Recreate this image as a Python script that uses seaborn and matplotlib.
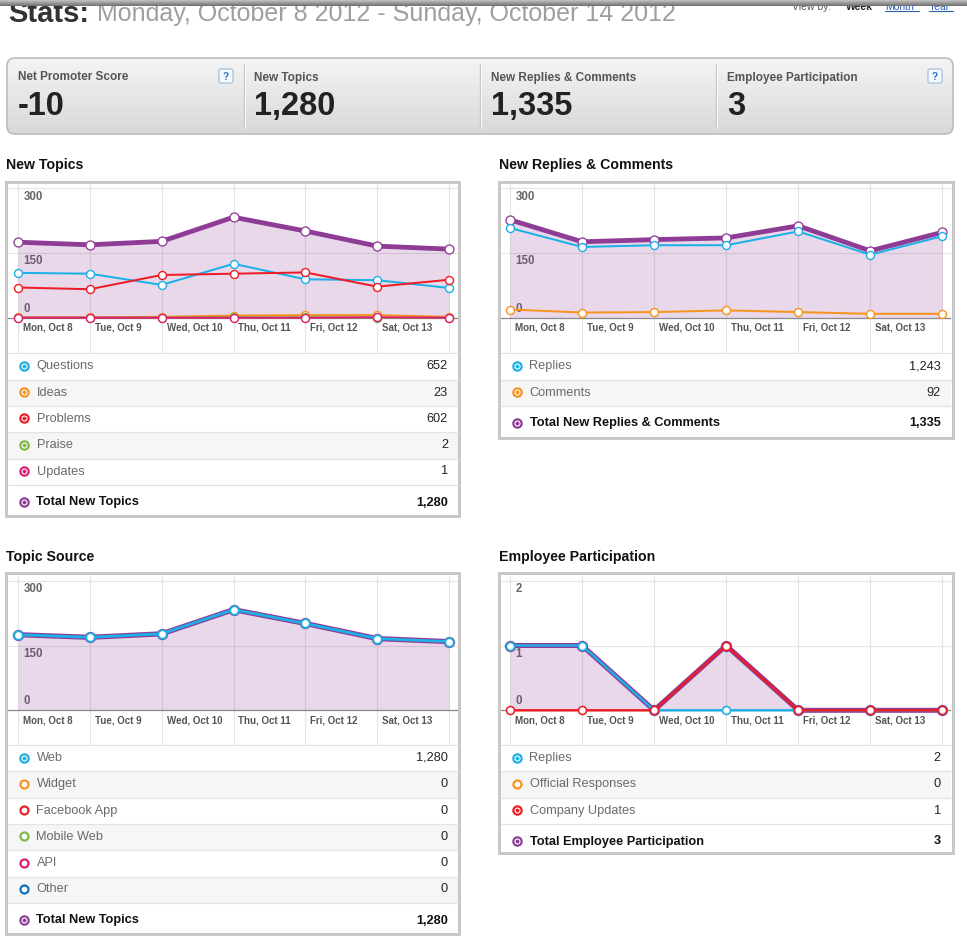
import numpy as np
import matplotlib
matplotlib.use("Agg")
import matplotlib.pyplot as plt
from matplotlib.patches import Rectangle, FancyBboxPatch
from matplotlib.colors import LinearSegmentedColormap
import seaborn as sns

sns.set_style("white")
plt.rcParams['font.family'] = ['Liberation Sans', 'DejaVu Sans']

# ---- data ----
days = [0, 1, 2, 3, 4, 5, 6]   # Mon Oct 8 .. Sun Oct 14
day_labels = ["Mon, Oct 8", "Tue, Oct 9", "Wed, Oct 10", "Thu, Oct 11", "Fri, Oct 12", "Sat, Oct 13"]

summary_labels = ["Net Promoter Score", "New Topics", "New Replies & Comments", "Employee Participation"]
summary_values = ["-10", "1,280", "1,335", "3"]

nt_questions = [104, 102, 76, 125, 89, 87, 69]
nt_ideas = [1, 1, 2, 5, 6, 6, 2]
nt_problems = [70, 66, 99, 102, 105, 72, 88]
nt_praise = [0, 0, 0, 1, 1, 0, 0]
nt_updates = [0, 0, 0, 0, 0, 1, 0]
nt_total = [175, 169, 177, 233, 201, 166, 159]
nt_names = ["Questions", "Ideas", "Problems", "Praise", "Updates"]
nt_counts = [652, 23, 602, 2, 1]
nt_sum = 1280

rc_replies = [208, 164, 168, 168, 200, 146, 189]
rc_comments = [19, 12, 13, 17, 13, 9, 9]
rc_total = [227, 176, 181, 185, 213, 155, 198]
rc_names = ["Replies", "Comments"]
rc_counts = [1243, 92]
rc_sum = 1335

ts_web = [175, 169, 177, 233, 201, 166, 159]
ts_total = [175, 169, 177, 233, 201, 166, 159]
ts_names = ["Web", "Widget", "Facebook App", "Mobile Web", "API", "Other"]
ts_counts = [1280, 0, 0, 0, 0, 0]
ts_sum = 1280

ep_replies = [1, 1, 0, 0, 0, 0, 0]
ep_company = [0, 0, 0, 1, 0, 0, 0]
ep_total = [1, 1, 0, 1, 0, 0, 0]
ep_names = ["Replies", "Official Responses", "Company Updates"]
ep_counts = [2, 0, 1]
ep_sum = 3

PURPLE = "#8e3c96"
CYAN = "#1cb0e6"
ORANGE = "#f7941d"
RED = "#ee1c25"
GREEN = "#7cb843"
PINK = "#e01a72"
BLUE = "#0b72c2"

W, H = 967, 940
PT = 0.72  # points per pixel at 100 dpi

fig = plt.figure(figsize=(W / 100, H / 100), dpi=100)
bg = fig.add_axes([0, 0, 1, 1], zorder=0)
bg.set_xlim(0, W)
bg.set_ylim(H, 0)
bg.axis("off")


def gradient(x0, x1, y0, y1, c_top, c_bot, clip=None, z=1):
    cmap = LinearSegmentedColormap.from_list("g", [c_top, c_bot])
    im = bg.imshow(np.linspace(0, 1, 50).reshape(-1, 1), extent=[x0, x1, y1, y0],
                   cmap=cmap, aspect="auto", origin="upper", zorder=z, interpolation="bilinear")
    if clip is not None:
        im.set_clip_path(clip)


# ---- header ----
gradient(0, W, 0, 6, "#c4c4c4", "#6e6e6e", z=10)
bg.text(8, 21.5, "Stats:", fontsize=21, fontweight="bold", color="#333333", va="baseline", zorder=2)
bg.text(97, 21.5, "Monday, October 8 2012 - Sunday, October 14 2012", fontsize=18,
        color="#9f9f9f", va="baseline", zorder=2)
bg.text(792, 9.5, "View by:", fontsize=7.5, color="#555555", va="baseline")
bg.text(846, 9.5, "Week", fontsize=7.5, color="#222222", fontweight="bold", va="baseline")
bg.text(885, 9.5, "Month", fontsize=7.5, color="#2a5db0", va="baseline")
bg.text(929, 9.5, "Year", fontsize=7.5, color="#2a5db0", va="baseline")
bg.plot([885, 919], [11, 11], color="#2a5db0", lw=0.8)
bg.plot([929, 953], [11, 11], color="#2a5db0", lw=0.8)

# ---- summary strip ----
box = FancyBboxPatch((7, 58), 946, 76, boxstyle="round,pad=0,rounding_size=8",
                     fc="none", ec="#bcbcbc", lw=1.2, zorder=3)
bg.add_patch(box)
gradient(7, 953, 58, 134, "#f4f4f4", "#d9d9d9", clip=box, z=1)
for xd in [244, 480, 716]:
    bg.plot([xd, xd], [64, 128], color="#c6c6c6", lw=1, zorder=2)
    bg.plot([xd + 1, xd + 1], [64, 128], color="#fafafa", lw=0.8, zorder=2)
for xs, lab, val in zip([18, 254, 491, 727], summary_labels, summary_values):
    bg.text(xs, 80.5, lab, fontsize=8.5, fontweight="bold", color="#555555", va="baseline", zorder=4)
    bg.text(xs, 115, val, fontsize=23.5, fontweight="bold", color="#222222", va="baseline", zorder=4)
for xq in [219, 928]:
    bg.add_patch(FancyBboxPatch((xq, 69), 14, 14, boxstyle="round,pad=0,rounding_size=2",
                                fc="#f3f8fd", ec="#9cbcd8", lw=0.8, zorder=4))
    bg.text(xq + 7, 76.5, "?", fontsize=7, fontweight="bold", color="#2a6fc0",
            ha="center", va="center", zorder=5)

# ---- section titles and panel frames ----
for xt, yt, title in [(6, 168.5, "New Topics"), (499, 168.5, "New Replies & Comments"),
                      (6, 560.5, "Topic Source"), (499, 560.5, "Employee Participation")]:
    bg.text(xt, yt, title, fontsize=10.2, fontweight="bold", color="#111111", va="baseline")

for (x, y, w, h) in [(6.2, 181.7, 452.3, 334.5), (499.3, 181.7, 453.2, 256.5),
                     (6.2, 573.3, 452.3, 361), (499.3, 573.3, 453.2, 280)]:
    bg.add_patch(Rectangle((x, y), w, h, fc="white", ec="#c8c8c8", lw=3 * PT, zorder=1))


def chart(l, t, r, b, x0, x6, y0, ytop, ymax, ticks):
    ax = fig.add_axes([l / W, 1 - b / H, (r - l) / W, (b - t) / H], zorder=2)
    ax.patch.set_alpha(0)
    dx = (x6 - x0) / 6
    s = (y0 - ytop) / ymax
    ax.set_xticks(days)
    ax.set_yticks(ticks)
    ax.grid(True, color="#e4e4e4", lw=0.8)
    ax.set_axisbelow(True)
    ax.tick_params(length=0, labelbottom=False, labelleft=False)
    sns.despine(ax=ax, left=True, bottom=True, top=True, right=True)
    ax.axhline(0, color="#8a8a8a", lw=0.9, zorder=1.5)
    for v, off in zip(ticks, [9, -8.5, -8.5]):
        ax.annotate(str(v), xy=(0, v), xytext=(5.5 * PT, off * PT), textcoords="offset points",
                    ha="left", va="center", fontsize=8.3, fontweight="bold", color="#666666", zorder=0.8)
    for i, lab in enumerate(day_labels):
        ax.annotate(lab, xy=(i, 0), xytext=(5 * PT, -9.8 * PT), textcoords="offset points",
                    ha="left", va="center", fontsize=7, fontweight="bold", color="#555555")
    lims = ((l - x0) / dx, (r - x0) / dx, -(b - y0) / s, (y0 - t) / s)
    return ax, lims


def series(ax, vals, col, lw, ms, mew, z):
    sns.lineplot(x=days, y=vals, ax=ax, color=col, lw=lw * PT, marker="o", ms=ms * PT,
                 mfc="white", mec=col, mew=mew * PT, zorder=z, clip_on=False)


def finish(ax, lims):
    ax.set_xlim(lims[0], lims[1])
    ax.set_ylim(lims[2], lims[3])
    ax.set_xlabel("")
    ax.set_ylabel("")


# panel 1: new topics
ax1, lim1 = chart(8, 184, 458, 353.3, 18, 449, 317.7, 188.3, 300, [0, 150, 300])
ax1.fill_between(days, nt_total, color=PURPLE, alpha=0.2, lw=0, zorder=1)
series(ax1, nt_total, PURPLE, 4.8, 9, 1.3, 3)
for vals, col in zip([nt_questions, nt_ideas, nt_problems, nt_praise, nt_updates],
                     [CYAN, ORANGE, RED, GREEN, PINK]):
    series(ax1, vals, col, 2, 8, 1.4, 4)
finish(ax1, lim1)

# panel 2: replies & comments
ax2, lim2 = chart(501, 184, 951, 353.3, 510, 942.3, 317.7, 188.3, 300, [0, 150, 300])
ax2.fill_between(days, rc_total, color=PURPLE, alpha=0.2, lw=0, zorder=1)
series(ax2, rc_total, PURPLE, 4.8, 9, 1.3, 3)
series(ax2, rc_replies, CYAN, 2, 8, 1.4, 4)
series(ax2, rc_comments, ORANGE, 2, 8, 1.4, 4)
finish(ax2, lim2)

# panel 3: topic source
ax3, lim3 = chart(8, 576, 458, 745, 18, 449, 710.3, 580.7, 300, [0, 150, 300])
ax3.fill_between(days, ts_total, color=PURPLE, alpha=0.2, lw=0, zorder=1)
series(ax3, ts_total, PURPLE, 5.2, 10, 1.3, 3)
series(ax3, ts_web, CYAN, 2.8, 8.5, 1.8, 4)
finish(ax3, lim3)

# panel 4: employee participation
ax4, lim4 = chart(501, 576, 951, 745, 510, 942.3, 710.3, 580.7, 2, [0, 1, 2])
ax4.fill_between(days, ep_total, color=PURPLE, alpha=0.2, lw=0, zorder=1)
series(ax4, ep_total, PURPLE, 5, 10, 1.3, 3)
series(ax4, ep_replies, CYAN, 2.4, 8, 1.6, 4)
series(ax4, ep_company, RED, 2.4, 8, 1.6, 5)
finish(ax4, lim4)


# ---- legend tables ----
def icon(x, y, col, hollow):
    if hollow:
        bg.plot(x, y, "o", ms=8 * PT, mfc="white", mec=col, mew=2.2 * PT, zorder=4)
    else:
        bg.plot(x, y, "o", ms=10.5 * PT, mfc=col, mec=col, mew=0, zorder=4)
        bg.plot(x, y, "o", ms=5 * PT, mfc=col, mec="white", mew=1.1 * PT, zorder=5)


def table(xl, xr, sep, names, counts, colors, total_label, total_value, total_y):
    row_h = 26.3
    for i, (name, cnt, col) in enumerate(zip(names, counts, colors)):
        y = sep + i * row_h
        if i % 2 == 1:
            bg.add_patch(Rectangle((xl, y), xr - xl, row_h, fc="#f6f6f6", lw=0, zorder=2))
        bg.plot([xl, xr], [y, y], color="#e2e2e2", lw=0.9, zorder=3)
        icon(xl + 15.5, y + 12.5, col, cnt == 0)
        bg.text(xl + 28.5, y + 13, name, fontsize=9.2, color="#6a6a6a", va="center", zorder=4)
        bg.text(xr - 10, y + 13, f"{cnt:,}", fontsize=9.2, color="#222222", va="center",
                ha="right", zorder=4)
    y = sep + len(names) * row_h
    bg.plot([xl, xr], [y, y], color="#e2e2e2", lw=0.9, zorder=3)
    icon(xl + 15.5, total_y - 0.5, PURPLE, False)
    bg.text(xl + 28.5, total_y, total_label, fontsize=9.2, fontweight="bold", color="#111111",
            va="center", zorder=4)
    bg.text(xr - 10, total_y, f"{total_value:,}", fontsize=9.2, fontweight="bold", color="#111111",
            va="center", ha="right", zorder=4)


table(8, 458, 353.3, nt_names, nt_counts, [CYAN, ORANGE, RED, GREEN, PINK],
      "Total New Topics", nt_sum, 502.5)
table(501, 951, 353.3, rc_names, rc_counts, [CYAN, ORANGE],
      "Total New Replies & Comments", rc_sum, 423.3)
table(8, 458, 745, ts_names, ts_counts, [CYAN, ORANGE, RED, GREEN, PINK, BLUE],
      "Total New Topics", ts_sum, 920.5)
table(501, 951, 745, ep_names, ep_counts, [CYAN, ORANGE, RED],
      "Total Employee Participation", ep_sum, 841.5)

bg.set_xlim(0, W)
bg.set_ylim(H, 0)

fig.savefig("out.png", dpi=100)
